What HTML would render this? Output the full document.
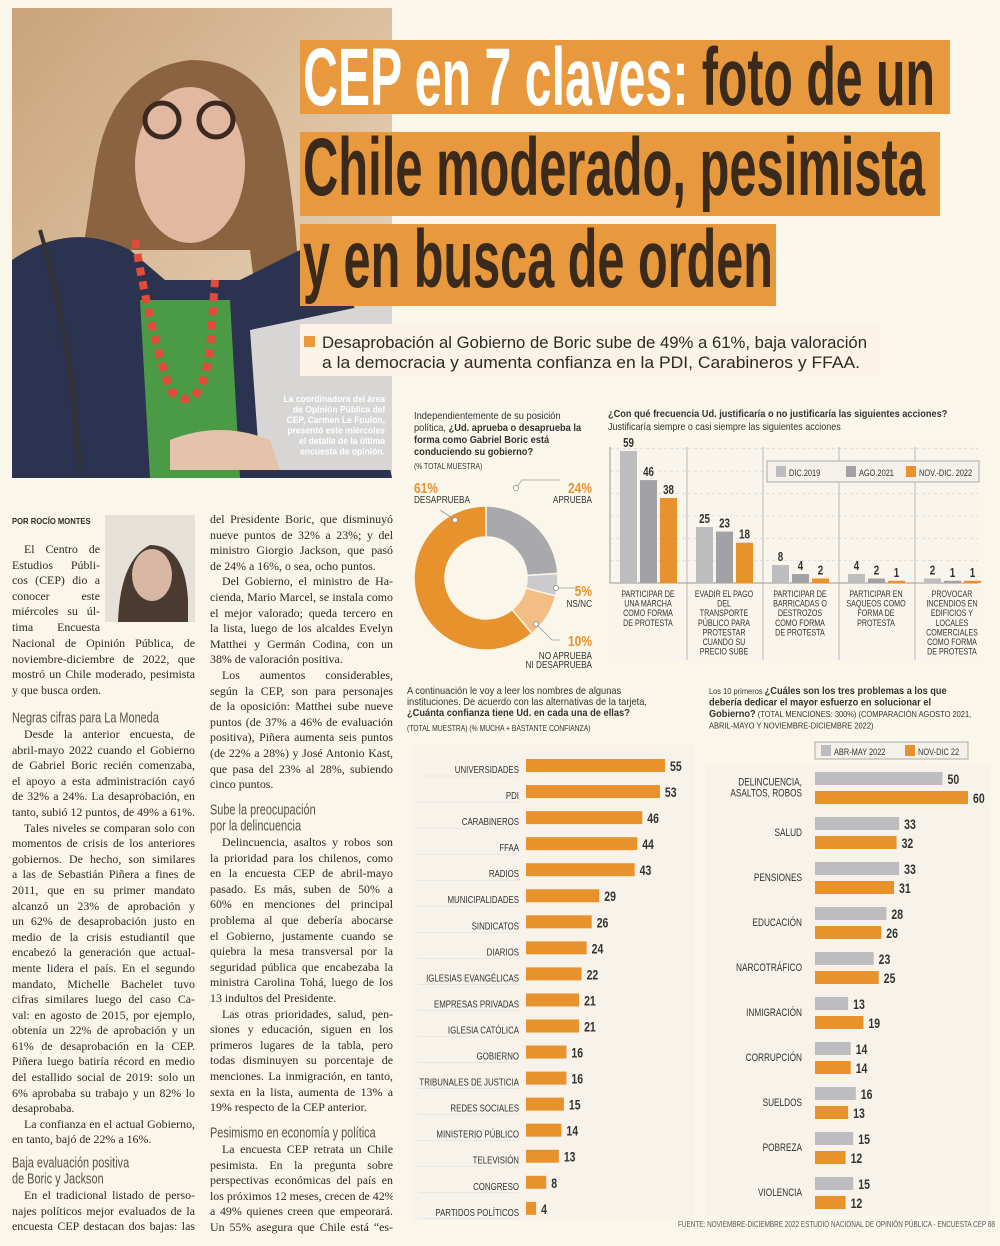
<!DOCTYPE html>
<html><head><meta charset="utf-8">
<style>
body{margin:0;background:#fbf6ea;}
#page{position:relative;width:1000px;height:1246px;overflow:hidden;background:#fbf6ea;font-family:"Liberation Serif",serif;color:#2d2a26;}
.col{position:absolute;font-size:11.9px;line-height:15.6px;}
.col .l{display:block;text-align:justify;text-align-last:justify;white-space:nowrap;overflow:hidden;}
.col .e{display:block;white-space:nowrap;}
.col .i{text-indent:12px;}
.hd{position:absolute;font-family:"Liberation Sans",sans-serif;font-size:14px;line-height:15px;color:#5b4f45;transform:scale(0.78,1.05);transform-origin:top left;white-space:nowrap;}
svg text{font-family:"Liberation Sans",sans-serif;}
</style></head>
<body>
<div id="page">
<svg id="art" width="1000" height="1246" style="position:absolute;left:0;top:0">
  <defs>
    <linearGradient id="bg" x1="0" y1="0" x2="1" y2="1">
      <stop offset="0" stop-color="#c9a47a"/><stop offset="0.5" stop-color="#dcc0a0"/><stop offset="1" stop-color="#e9dcc8"/>
    </linearGradient>
  </defs>
  <g>
    <rect x="12" y="8" width="380" height="470" fill="url(#bg)"/>
    <path d="M95 170 Q110 70 190 60 Q270 60 285 150 Q300 240 300 330 L260 330 L250 250 L130 250 L110 330 L70 330 Q85 240 95 170Z" fill="#8a6441"/>
    <ellipse cx="190" cy="165" rx="55" ry="78" fill="#e2b9a0"/>
    <circle cx="162" cy="120" r="17" fill="none" stroke="#3a2a22" stroke-width="5"/>
    <circle cx="216" cy="120" r="17" fill="none" stroke="#3a2a22" stroke-width="5"/>
    <path d="M12 260 Q70 220 130 250 L165 280 L240 280 L300 250 Q340 270 360 320 L392 478 L12 478Z" fill="#2b3350"/>
    <path d="M140 300 L150 478 L240 478 L230 300Z" fill="#4b9a46"/>
    <path d="M135 240 Q150 330 170 390 Q200 420 210 350 L215 280" fill="none" stroke="#e24a3a" stroke-width="8" stroke-dasharray="8 6"/>
    <path d="M250 330 L260 470 L392 470 L392 300 Z" fill="#d8d6d4"/>
    <path d="M170 440 Q220 420 270 440 L280 470 L170 470Z" fill="#e5c2ab"/>
    <path d="M40 230 Q70 330 80 470" fill="none" stroke="#333" stroke-width="4"/>
  </g>
  <text x="385" y="402" text-anchor="end" font-weight="bold" font-size="9.5" fill="#fff" transform="translate(385 0) scale(0.9 1) translate(-385 0)"><tspan x="385" dy="0">La coordinadora del área</tspan><tspan x="385" dy="10.5">de Opinión Pública del</tspan><tspan x="385" dy="10.5">CEP, Carmen Le Foulon,</tspan><tspan x="385" dy="10.5">presentó este miércoles</tspan><tspan x="385" dy="10.5">el detalle de la última</tspan><tspan x="385" dy="10.5">encuesta de opinión.</tspan></text>

  <g>
    <rect x="300" y="40" width="650" height="74" fill="#e8983d"/>
    <rect x="300" y="132" width="640" height="84" fill="#e8983d"/>
    <rect x="300" y="224" width="476" height="82" fill="#e8983d"/>
    <text x="303" y="105" font-size="82" font-weight="bold" textLength="632" lengthAdjust="spacingAndGlyphs"><tspan fill="#fff">CEP en 7 claves: </tspan><tspan fill="#3a2a1c">foto de un</tspan></text>
    <text x="303" y="195" font-size="82" font-weight="bold" fill="#3a2a1c" textLength="622" lengthAdjust="spacingAndGlyphs">Chile moderado, pesimista</text>
    <text x="303" y="287" font-size="82" font-weight="bold" fill="#3a2a1c" textLength="470" lengthAdjust="spacingAndGlyphs">y en busca de orden</text>
  </g>
  <g>
    <rect x="300" y="324" width="580" height="52" fill="#faf3e6"/>
    <rect x="304" y="336" width="11" height="11" fill="#e8983d"/>
    <text x="322" y="348" font-size="17" fill="#2d2a26" textLength="545" lengthAdjust="spacingAndGlyphs">Desaprobación al Gobierno de Boric sube de 49% a 61%, baja valoración</text>
    <text x="322" y="368" font-size="17" fill="#2d2a26" textLength="538" lengthAdjust="spacingAndGlyphs">a la democracia y aumenta confianza en la PDI, Carabineros y FFAA.</text>
  </g>
  <g>
    <rect x="105" y="515" width="90" height="107" fill="#e5e0d8"/>
    <path d="M118 622 Q120 560 150 545 Q185 545 188 600 L188 622Z" fill="#4a3a30"/>
    <ellipse cx="152" cy="575" rx="20" ry="26" fill="#d8b8a4"/>
  </g>
  <g id="donut"></g>
  <g id="freq"></g>
  <g id="conf"></g>
  <g id="prob"></g>
  <text x="995" y="1227" text-anchor="end" font-size="8" fill="#555" transform="translate(995 0) scale(0.8 1) translate(-995 0)">FUENTE: NOVIEMBRE-DICIEMBRE 2022 ESTUDIO NACIONAL DE OPINIÓN PÚBLICA - ENCUESTA CEP 88</text>
</svg>

<div style="position:absolute;left:12px;top:516px;font:bold 8.5px 'Liberation Sans',sans-serif;transform:scaleX(0.9);transform-origin:left">POR ROCÍO MONTES</div>

<div class="col" style="left:12px;top:542px;width:88px">
<span class="l i">El Centro de</span><span class="l">Estudios Públi-</span><span class="l">cos (CEP) dio a</span><span class="l">conocer este</span><span class="l">miércoles su úl-</span><span class="l">tima Encuesta</span></div>
<div class="col" style="left:12px;top:636px;width:183px">
<span class="l">Nacional de Opinión Pública, de</span><span class="l">noviembre-diciembre de 2022, que</span><span class="l">mostró un Chile moderado, pesimista</span><span class="e">y que busca orden.</span></div>
<div class="hd" style="left:12px;top:710px">Negras cifras para La Moneda</div>
<div class="col" style="left:12px;top:727px;width:183px">
<span class="l i">Desde la anterior encuesta, de</span><span class="l">abril-mayo 2022 cuando el Gobierno</span><span class="l">de Gabriel Boric recién comenzaba,</span><span class="l">el apoyo a esta administración cayó</span><span class="l">de 32% a 24%. La desaprobación, en</span><span class="e">tanto, subió 12 puntos, de 49% a 61%.</span>
<span class="l i">Tales niveles se comparan solo con</span><span class="l">momentos de crisis de los anteriores</span><span class="l">gobiernos. De hecho, son similares</span><span class="l">a las de Sebastián Piñera a fines de</span><span class="l">2011, que en su primer mandato</span><span class="l">alcanzó un 23% de aprobación y</span><span class="l">un 62% de desaprobación justo en</span><span class="l">medio de la crisis estudiantil que</span><span class="l">encabezó la generación que actual-</span><span class="l">mente lidera el país. En el segundo</span><span class="l">mandato, Michelle Bachelet tuvo</span><span class="l">cifras similares luego del caso Ca-</span><span class="l">val: en agosto de 2015, por ejemplo,</span><span class="l">obtenía un 22% de aprobación y un</span><span class="l">61% de desaprobación en la CEP.</span><span class="l">Piñera luego batiría récord en medio</span><span class="l">del estallido social de 2019: solo un</span><span class="l">6% aprobaba su trabajo y un 82% lo</span><span class="e">desaprobaba.</span>
<span class="l i">La confianza en el actual Gobierno,</span><span class="e">en tanto, bajó de 22% a 16%.</span></div>
<div class="hd" style="left:12px;top:1155px">Baja evaluación positiva<br>de Boric y Jackson</div>
<div class="col" style="left:12px;top:1188px;width:183px">
<span class="l i">En el tradicional listado de perso-</span><span class="l">najes políticos mejor evaluados de la</span><span class="l">encuesta CEP destacan dos bajas: las</span></div>

<div class="col" style="left:210px;top:512px;width:183px">
<span class="l">del Presidente Boric, que disminuyó</span><span class="l">nueve puntos de 32% a 23%; y del</span><span class="l">ministro Giorgio Jackson, que pasó</span><span class="e">de 24% a 16%, o sea, ocho puntos.</span>
<span class="l i">Del Gobierno, el ministro de Ha-</span><span class="l">cienda, Mario Marcel, se instala como</span><span class="l">el mejor valorado; queda tercero en</span><span class="l">la lista, luego de los alcaldes Evelyn</span><span class="l">Matthei y Germán Codina, con un</span><span class="e">38% de valoración positiva.</span>
<span class="l i">Los aumentos considerables,</span><span class="l">según la CEP, son para personajes</span><span class="l">de la oposición: Matthei sube nueve</span><span class="l">puntos (de 37% a 46% de evaluación</span><span class="l">positiva), Piñera aumenta seis puntos</span><span class="l">(de 22% a 28%) y José Antonio Kast,</span><span class="l">que pasa del 23% al 28%, subiendo</span><span class="e">cinco puntos.</span></div>
<div class="hd" style="left:210px;top:802px">Sube la preocupación<br>por la delincuencia</div>
<div class="col" style="left:210px;top:835px;width:183px">
<span class="l i">Delincuencia, asaltos y robos son</span><span class="l">la prioridad para los chilenos, como</span><span class="l">en la encuesta CEP de abril-mayo</span><span class="l">pasado. Es más, suben de 50% a</span><span class="l">60% en menciones del principal</span><span class="l">problema al que debería abocarse</span><span class="l">el Gobierno, justamente cuando se</span><span class="l">quiebra la mesa transversal por la</span><span class="l">seguridad pública que encabezaba la</span><span class="l">ministra Carolina Tohá, luego de los</span><span class="e">13 indultos del Presidente.</span>
<span class="l i">Las otras prioridades, salud, pen-</span><span class="l">siones y educación, siguen en los</span><span class="l">primeros lugares de la tabla, pero</span><span class="l">todas disminuyen su porcentaje de</span><span class="l">menciones. La inmigración, en tanto,</span><span class="l">sexta en la lista, aumenta de 13% a</span><span class="e">19% respecto de la CEP anterior.</span></div>
<div class="hd" style="left:210px;top:1125px">Pesimismo en economía y política</div>
<div class="col" style="left:210px;top:1142px;width:183px">
<span class="l i">La encuesta CEP retrata un Chile</span><span class="l">pesimista. En la pregunta sobre</span><span class="l">perspectivas económicas del país en</span><span class="l">los próximos 12 meses, crecen de 42%</span><span class="l">a 49% quienes creen que empeorará.</span><span class="l">Un 55% asegura que Chile está “es-</span></div>
</div>

<script>
// ===== DATA =====
const donutLabels = ["APRUEBA","NS/NC","NI APRUEBA NI DESAPRUEBA","DESAPRUEBA"];
const donutValues = [24,5,10,61];

const freqCategories = [["PARTICIPAR DE","UNA MARCHA","COMO FORMA","DE PROTESTA"],["EVADIR EL PAGO","DEL","TRANSPORTE","PÚBLICO PARA","PROTESTAR","CUANDO SU","PRECIO SUBE"],["PARTICIPAR DE","BARRICADAS O","DESTROZOS","COMO FORMA","DE PROTESTA"],["PARTICIPAR EN","SAQUEOS COMO","FORMA DE","PROTESTA"],["PROVOCAR","INCENDIOS EN","EDIFICIOS Y","LOCALES","COMERCIALES","COMO FORMA","DE PROTESTA"]];
const freqSeriesNames = ["DIC.2019","AGO.2021","NOV.-DIC. 2022"];
const freq2019 = [59,25,8,4,2];
const freq2021 = [46,23,4,2,1];
const freq2022 = [38,18,2,1,1];

const confCategories = ["UNIVERSIDADES","PDI","CARABINEROS","FFAA","RADIOS","MUNICIPALIDADES","SINDICATOS","DIARIOS","IGLESIAS EVANGÉLICAS","EMPRESAS PRIVADAS","IGLESIA CATÓLICA","GOBIERNO","TRIBUNALES DE JUSTICIA","REDES SOCIALES","MINISTERIO PÚBLICO","TELEVISIÓN","CONGRESO","PARTIDOS POLÍTICOS"];
const confValues = [55,53,46,44,43,29,26,24,22,21,21,16,16,15,14,13,8,4];

const probCategories = [["DELINCUENCIA,","ASALTOS, ROBOS"],["SALUD"],["PENSIONES"],["EDUCACIÓN"],["NARCOTRÁFICO"],["INMIGRACIÓN"],["CORRUPCIÓN"],["SUELDOS"],["POBREZA"],["VIOLENCIA"]];
const probSeriesNames = ["ABR-MAY 2022","NOV-DIC 22"];
const probPrev = [50,33,33,28,23,13,14,16,15,15];
const probNow = [60,32,31,26,25,19,14,13,12,12];

// ===== HELPERS =====
const NS="http://www.w3.org/2000/svg";
const ORANGE="#e8922e", GRAY1="#bdbcbf", GRAY2="#a2a2a6", TXT="#333";
function el(parent,tag,attrs,txt){const e=document.createElementNS(NS,tag);for(const k in attrs)e.setAttribute(k,attrs[k]);if(txt!==undefined)e.textContent=txt;parent.appendChild(e);return e;}
function condense(t,s){const x=+t.getAttribute('x');t.setAttribute('transform',`translate(${x} 0) scale(${s} 1) translate(${-x} 0)`);return t;}

// ===== DONUT =====
(function(){
  const g=document.getElementById('donut');
  const cx=486, cy=578, R=72, r=41;
  const cols=["#a9a9ac","#cbcbce","#f2be84","#e8922e"];
  const total=donutValues.reduce((a,b)=>a+b,0);
  const ang=v=>v/total*2*Math.PI;
  let a0=0;
  const t1=el(g,'text',{x:414,y:419,'font-size':10,fill:TXT});
  
  
  const ql=[["Independientemente de su posición",false],["política, ",false,"¿Ud. aprueba o desaprueba la"],["forma como Gabriel Boric está",true],["conduciendo su gobierno?",true]];
  ql.forEach((q,i)=>{el(t1,'tspan',{x:414,dy:i?12:0,'font-weight':q[1]?'bold':'normal'},q[0]);if(q[2])el(t1,'tspan',{'font-weight':'bold'},q[2]);});
  condense(t1,0.93);
  const t2=el(g,'text',{x:414,y:469,'font-size':8,fill:TXT},"(% TOTAL MUESTRA)");
  
  
  condense(t2,0.85);
  donutValues.forEach((v,i)=>{
    const a1=a0+ang(v);
    const p=(a,rad)=>[cx+rad*Math.sin(a),cy-rad*Math.cos(a)];
    const [x0,y0]=p(a0,R),[x1,y1]=p(a1,R),[x2,y2]=p(a1,r),[x3,y3]=p(a0,r);
    const lg=(a1-a0)>Math.PI?1:0;
    const path=el(g,'path',{d:`M${x0} ${y0} A${R} ${R} 0 ${lg} 1 ${x1} ${y1} L${x2} ${y2} A${r} ${r} 0 ${lg} 0 ${x3} ${y3}Z`,fill:cols[i],stroke:'#fbf6ea','stroke-width':1.5});
    
    
    a0=a1;
  });
  const lab=[
    {x:414,y:493,anchor:'start',v:donutValues[3],l:["DESAPRUEBA"],ly:[503],dot:[455,520],line:"M455 520 L440 510"},
    {x:592,y:493,anchor:'end',v:donutValues[0],l:["APRUEBA"],ly:[503],dot:[516,488],line:"M516 488 L522 480 L560 480"},
    {x:592,y:596,anchor:'end',v:donutValues[1],l:["NS/NC"],ly:[607],dot:[556,588],line:"M556 588 L575 588"},
    {x:592,y:646,anchor:'end',v:donutValues[2],l:["NO APRUEBA","NI DESAPRUEBA"],ly:[659,668],dot:[536,624],line:"M536 624 L552 640 L560 640"}
  ];
  lab.forEach((o,i)=>{
    el(g,'path',{d:o.line,fill:'none',stroke:'#999','stroke-width':0.8});
    el(g,'circle',{cx:o.dot[0],cy:o.dot[1],r:2.5,fill:'#fff',stroke:'#999'});
    const t=el(g,'text',{x:o.x,y:o.y,'text-anchor':o.anchor,'font-size':15,'font-weight':'bold',fill:ORANGE},o.v+"%");
    
    
    condense(t,0.8);
    o.l.forEach((s,j)=>{const tt=el(g,'text',{x:o.x,y:o.ly[j],'text-anchor':o.anchor,'font-size':10,fill:TXT},s);
      
      
      condense(tt,0.82);});
  });
})();

// ===== FREQUENCY =====
(function(){
  const g=document.getElementById('freq');
  const base=583, k=(583-451)/59, gx0=620, gw=76, bw=17, gap=3;
  const y=v=>base-v*k;
  const tt=el(g,'text',{x:608,y:417,'font-size':10.5,'font-weight':'bold',fill:TXT},"¿Con qué frecuencia Ud. justificaría o no justificaría las siguientes acciones?");
  
  
  condense(tt,0.88);
  const st=el(g,'text',{x:608,y:430,'font-size':10,fill:TXT},"Justificaría siempre o casi siempre las siguientes acciones");
  
  
  condense(st,0.9);
  el(g,'rect',{x:610,y:447,width:368,height:213,fill:'#faf5ec'});
  for(let v=10;v<=60;v+=10) el(g,'line',{x1:610,x2:978,y1:y(v),y2:y(v),stroke:'#ccc','stroke-width':0.6,'stroke-dasharray':'3 3'});
  el(g,'line',{x1:610,x2:610,y1:447,y2:583,stroke:'#999'});
  for(let i=1;i<5;i++) el(g,'line',{x1:611+i*gw,x2:611+i*gw,y1:447,y2:660,stroke:'#aaa','stroke-width':0.8});
  el(g,'line',{x1:610,x2:978,y1:base,y2:base,stroke:'#999'});
  const series=[freq2019,freq2021,freq2022], cols=[GRAY1,GRAY2,ORANGE];
  freqCategories.forEach((c,i)=>{
    series.forEach((s,j)=>{
      const x=gx0+i*gw+j*(bw+gap);
      const b=el(g,'rect',{x:x,y:y(s[i]),width:bw,height:s[i]*k,fill:cols[j]});
      
      
      const t=el(g,'text',{x:x+bw/2,y:y(s[i])-4,'text-anchor':'middle','font-size':13,'font-weight':'bold',fill:'#333'},s[i]);
      
      
      condense(t,0.75);
    });
    c.forEach((line,j)=>{const t=el(g,'text',{x:gx0+i*gw+28,y:597+j*9.6,'text-anchor':'middle','font-size':9.5,fill:'#333'},line);
      
      
      condense(t,0.75);});
  });
  el(g,'rect',{x:767,y:461,width:212,height:21,fill:'#f5f1ea',stroke:'#999','stroke-width':0.8});
  const lx=[776,846,906];
  freqSeriesNames.forEach((n,j)=>{
    el(g,'rect',{x:lx[j],y:466,width:10,height:11,fill:cols[j]});
    const t=el(g,'text',{x:lx[j]+13,y:476,'font-size':9.5,fill:'#333'},n);
    
    
    condense(t,0.78);
  });
})();

// ===== CONFIDENCE =====
(function(){
  const g=document.getElementById('conf');
  const x0=526, k=(665-526)/55, y0=759, step=26.05, bh=13;
  const tl=[["A continuación le voy a leer los nombres de algunas",false],["instituciones. De acuerdo con las alternativas de la tarjeta,",false],["¿Cuánta confianza tiene Ud. en cada una de ellas?",true]];
  tl.forEach((l,i)=>{const t=el(g,'text',{x:407,y:694+i*11,'font-size':10,'font-weight':l[1]?'bold':'normal',fill:TXT},l[0]);
    
    
    condense(t,0.93);});
  const n=el(g,'text',{x:407,y:731,'font-size':8,fill:TXT},"(TOTAL MUESTRA) (% MUCHA + BASTANTE CONFIANZA)");
  
  
  condense(n,0.85);
  el(g,'rect',{x:412,y:745,width:282,height:475,fill:'#f8f3ea'});
  confCategories.forEach((c,i)=>{
    const yy=y0+i*step;
    const b=el(g,'rect',{x:x0,y:yy,width:confValues[i]*k,height:bh,fill:ORANGE});
    
    
    const v=el(g,'text',{x:x0+confValues[i]*k+5,y:yy+12,'font-size':14,'font-weight':'bold',fill:'#333'},confValues[i]);
    
    
    condense(v,0.75);
    const l=el(g,'text',{x:519,y:yy+14,'text-anchor':'end','font-size':10.5,fill:'#333'},c);
    
    
    condense(l,0.75);
    el(g,'line',{x1:418,x2:519,y1:yy+17,y2:yy+17,stroke:'#ddd','stroke-width':0.6});
  });
})();

// ===== PROBLEMS =====
(function(){
  const g=document.getElementById('prob');
  const x0=815, k=(968-815)/60, y0=772, step=45, bh=13;
  const tl=[[["Los 10 primeros ",false],["¿Cuáles son los tres problemas a los que",true]],[["debería dedicar el mayor esfuerzo en solucionar el",true]],[["Gobierno?",true],[" (TOTAL MENCIONES: 300%) (COMPARACIÓN AGOSTO 2021,",false]],[["ABRIL-MAYO Y NOVIEMBRE-DICIEMBRE 2022)",false]]];
  tl.forEach((line,i)=>{const t=el(g,'text',{x:709,y:694+i*11.5,fill:TXT});
    
    
    line.forEach(p=>el(t,'tspan',{'font-weight':p[1]?'bold':'normal','font-size':p[1]?10.5:8.5},p[0]));
    condense(t,0.88);});
  el(g,'rect',{x:706,y:765,width:284,height:450,fill:'#f8f3ea'});
  el(g,'rect',{x:815,y:742,width:153,height:17,fill:'#f5f1ea',stroke:'#999','stroke-width':0.8});
  const cols=[GRAY1,ORANGE], lx=[821,905];
  probSeriesNames.forEach((n,j)=>{
    el(g,'rect',{x:lx[j],y:745,width:10,height:11,fill:cols[j]});
    const t=el(g,'text',{x:lx[j]+13,y:755,'font-size':9.5,fill:'#333'},n);
    
    
    condense(t,0.78);
  });
  probCategories.forEach((c,i)=>{
    const yy=y0+i*step;
    [probPrev,probNow].forEach((s,j)=>{
      const by=yy+j*19;
      const b=el(g,'rect',{x:x0,y:by,width:s[i]*k,height:bh,fill:cols[j]});
      
      
      const v=el(g,'text',{x:x0+s[i]*k+5,y:by+12,'font-size':14,'font-weight':'bold',fill:'#333'},s[i]);
      
      
      condense(v,0.75);
    });
    const start=yy+19-(c.length-1)*5.5;
    c.forEach((s,j)=>{const l=el(g,'text',{x:802,y:start+j*11,'text-anchor':'end','font-size':11,fill:'#333'},s);
      
      
      condense(l,0.75);});
  });
})();
</script>
</body></html>
